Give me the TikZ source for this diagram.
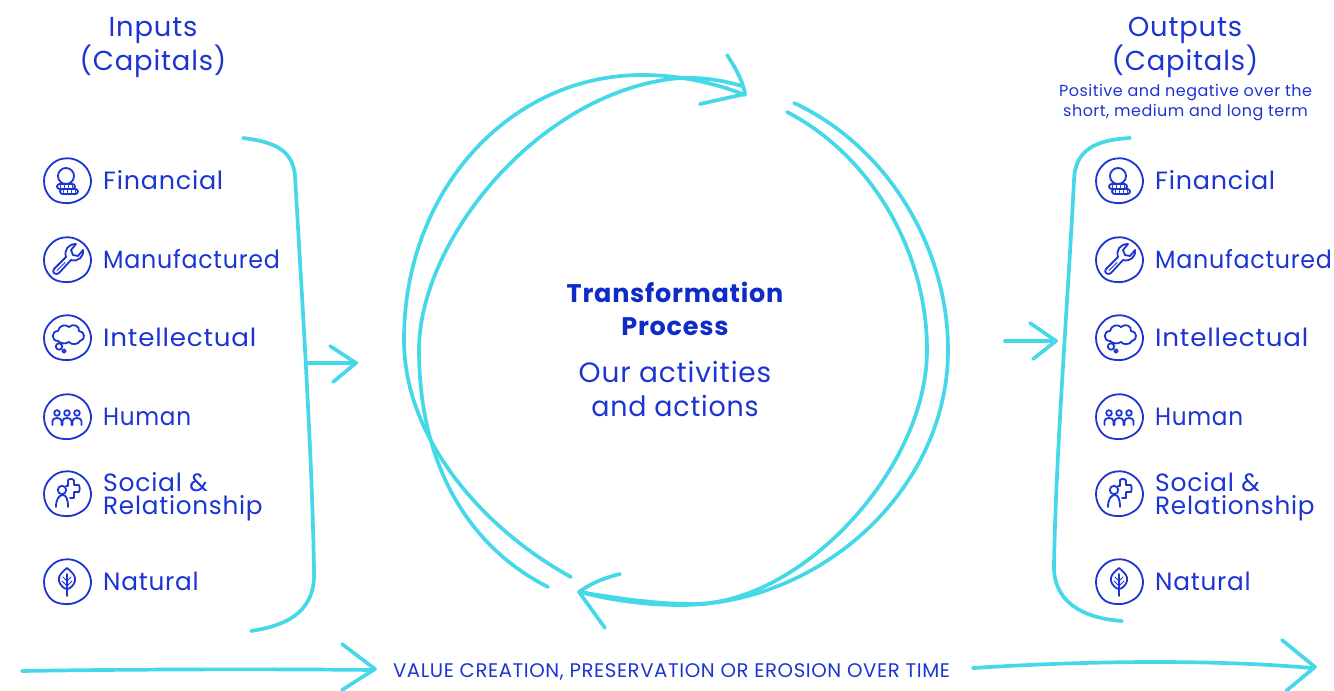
\documentclass[tikz,border=0pt]{standalone}
\usepackage{graphicx}
\usepackage{fontspec}
\setmainfont{Poppins}[LetterSpace=3]
\definecolor{ink}{HTML}{1C35D2}
\definecolor{deep}{HTML}{0F2BC8}
\definecolor{aqua}{HTML}{45D8E8}
\tikzset{
  stroke/.style={draw=aqua,line width=3.7pt,line cap=round,line join=round},
  iconline/.style={draw=ink,line width=1.8pt,line cap=round,line join=round},
  iconthin/.style={draw=ink,line width=.9pt,line cap=round,line join=round},
  captext/.style={text=ink,font=\fontsize{25}{29}\selectfont,anchor=base west,inner sep=0pt},
  capsmall/.style={text=ink,font=\fontsize{25}{23}\selectfont,anchor=west,inner sep=0pt,align=left},
  headtext/.style={text=ink,font=\fontsize{27.4}{34}\selectfont,align=center,inner sep=0pt},
  subtext/.style={text=ink,font=\fontsize{28}{34}\selectfont,align=center,inner sep=0pt},
  notetext/.style={text=ink,font=\fontsize{16}{20}\selectfont,align=center,inner sep=0pt},
  ring/.pic={\draw[iconline] plot[smooth cycle,tension=.7] coordinates {(-23,0) (-17,-15) (-3,-22.5) (13,-19) (23,-6) (22,9) (12,19) (-3,22) (-17,16)};},
  financial/.pic={\pic{ring};
    \draw[iconline] (-1,-5) circle (8);
    \draw[iconline,fill=white,rounded corners=2.5pt] (-10,3) rectangle (8,8);
    \draw[iconline,fill=white,rounded corners=2.5pt] (-7,8) rectangle (11,13);
    \foreach \x in {-6,-2,2,6} {\draw[iconthin] (\x-1,4.5)--(\x-1,6.5); \draw[iconthin] (\x+2,9.5)--(\x+2,11.5);}},
  wrench/.pic={\pic{ring};
    \draw[iconline] (-1,-3) .. controls (-3,-10) and (1,-16) .. (9,-16) -- (4,-10) -- (6,-5) -- (11,-4) -- (16,-10) .. controls (17,-3) and (11,2) .. (4,0) -- (-8,13) .. controls (-11,16) and (-16,12) .. (-13,9) -- cycle;
    \draw[iconthin] (-10,10.5) -- (-2,2.5);},
  cloud/.pic={\pic{ring};
    \draw[iconline] (-9,3) .. controls (-16,3) and (-16,-7) .. (-9,-7) .. controls (-8,-13) and (-1,-14) .. (2,-11) .. controls (6,-15) and (13,-12) .. (12,-7) .. controls (18,-7) and (19,2) .. (13,3) .. controls (11,7) and (4,7) .. (2,4) .. controls (-1,6) and (-6,6) .. (-9,3) -- cycle;
    \draw[iconline] (-8,8.5) circle (3.2);
    \draw[iconline] (-3,13) circle (1.8);},
  people/.pic={\pic{ring};
    \foreach \x in {-10,0,10} {\draw[iconline] (\x,-4) circle (2.8);
      \draw[iconline] (\x-4.5,8) -- (\x-4.5,4) .. controls (\x-4.5,0) and (\x+4.5,0) .. (\x+4.5,4) -- (\x+4.5,8);}},
  social/.pic={\pic{ring};
    \draw[iconline] (-5,-4) circle (4.2);
    \draw[iconline] (-11,13) .. controls (-11,5) and (-8,1) .. (-4,1) .. controls (-1,1) and (1,5) .. (1,13);
    \draw[iconline] (-1,-8) -- (1,-8) -- (1,-14) .. controls (3,-16) and (7,-15) .. (7,-13) -- (7,-9) -- (12,-9) .. controls (13,-7) and (13,-4) .. (12,-2) -- (7,-2) -- (7,4) -- (3,4);},
  leaf/.pic={\pic{ring};
    \draw[iconline] (0,-14) .. controls (-6,-9) and (-9,-6) .. (-8,-1) .. controls (-7,3) and (-3,7) .. (0,7) .. controls (3,7) and (7,3) .. (8,-1) .. controls (9,-6) and (6,-9) .. (0,-14);
    \draw[iconline] (0,-8) -- (0,14);
    \draw[iconthin] (-4,-5)--(0,-1) (4,-5)--(0,-1) (-5,-1)--(0,4) (5,-1)--(0,4);}
}
\begin{document}
\begin{tikzpicture}[x=1pt,y=-1pt]
\useasboundingbox (0,0) rectangle (1334,691);
% headings
\node[headtext] (inputs) at (153,47.5) {Inputs\\(Capitals)};
\node[headtext] (outputs) at (1185,47.5) {Outputs\\(Capitals)};
\node[notetext] (horizon) at (1185.5,102.5) {Positive and negative over the\\short, medium and long term};
% capitals, both columns
\foreach \nm/\y/\ic/\tx/\sx in {a/181/financial/Financial/1.017,b/260/wrench/Manufactured/.951,c/338/cloud/Intellectual/1.048,d/417/people/Human/.926,f/582/leaf/Natural/.99}{
  \pic at (67,\y) {\ic};
  \node[captext] (l\nm) at (103,\y+8.6) {\scalebox{\sx}[1]{\tx}};
  \pic at (1119,\y) {\ic};
  \node[captext] (r\nm) at (1155,\y+8.6) {\scalebox{\sx}[1]{\tx}};
}
\pic at (67,494) {social};
\node[capsmall] (le) at (103,497) {Social \&\\\scalebox{.988}[1]{Relationship}};
\pic at (1119,494) {social};
\node[capsmall] (re) at (1155,497) {Social \&\\\scalebox{.988}[1]{Relationship}};
% centre
\node[text=deep,font=\fontsize{25.5}{33}\selectfont\bfseries,align=center,inner sep=0pt] (title) at (675,309) {Transformation\\Process};
\node[subtext] (sub) at (675,388.5) {Our activities\\\scalebox{.96}[1]{and actions}};
% process ring
\draw[stroke] (571,577) .. controls (485,530) and (404,440) .. (404,340) .. controls (404,190) and (510,75) .. (642,75) .. controls (680,75) and (715,83) .. (745,95);
\draw[stroke] (548,587) .. controls (465,545) and (419,460) .. (419,350) .. controls (419,240) and (540,90) .. (680,78) .. controls (700,77) and (722,80) .. (742,86);
\draw[stroke] (794,103) .. controls (885,145) and (948,245) .. (948,350) .. controls (948,490) and (820,605) .. (680,605) .. controls (645,605) and (610,600) .. (580,592);
\draw[stroke] (787,112) .. controls (870,155) and (927,250) .. (927,350) .. controls (927,470) and (800,604) .. (693,604) .. controls (655,604) and (615,598) .. (580,592);
\draw[stroke] (727,55) .. controls (737,70) and (743,82) .. (745,94) -- (700,104);
\draw[stroke] (620,574) .. controls (603,578) and (590,584) .. (579,592) -- (605,628);
% brackets
\draw[stroke] (243,138) .. controls (275,142) and (292,150) .. (295,175) .. controls (302,300) and (312,450) .. (314,570) .. controls (316,610) and (290,625) .. (251,631);
\draw[stroke] (307,363) -- (356,363);
\draw[stroke] (330,346) -- (356,363) -- (333,382);
\draw[stroke] (1130,138) .. controls (1095,140) and (1075,150) .. (1074,180) .. controls (1068,300) and (1056,450) .. (1054,565) .. controls (1053,600) and (1080,618) .. (1122,621);
\draw[stroke] (1005,341) -- (1056,341);
\draw[stroke] (1030,323) -- (1056,341) -- (1033,359);
% timeline
\node[text=ink,font=\fontsize{19.7}{22}\selectfont,inner sep=0pt] (time) at (671.5,672) {VALUE CREATION, PRESERVATION OR EROSION OVER TIME};
\draw[stroke] (22,671) .. controls (150,669) and (280,669) .. (373,670);
\draw[stroke] (342,644) -- (375,669) -- (342,690);
\draw[stroke] (973,668) .. controls (1100,660) and (1220,660) .. (1312,668);
\draw[stroke] (1282,640) -- (1315,667) -- (1286,691);
\end{tikzpicture}
\end{document}
